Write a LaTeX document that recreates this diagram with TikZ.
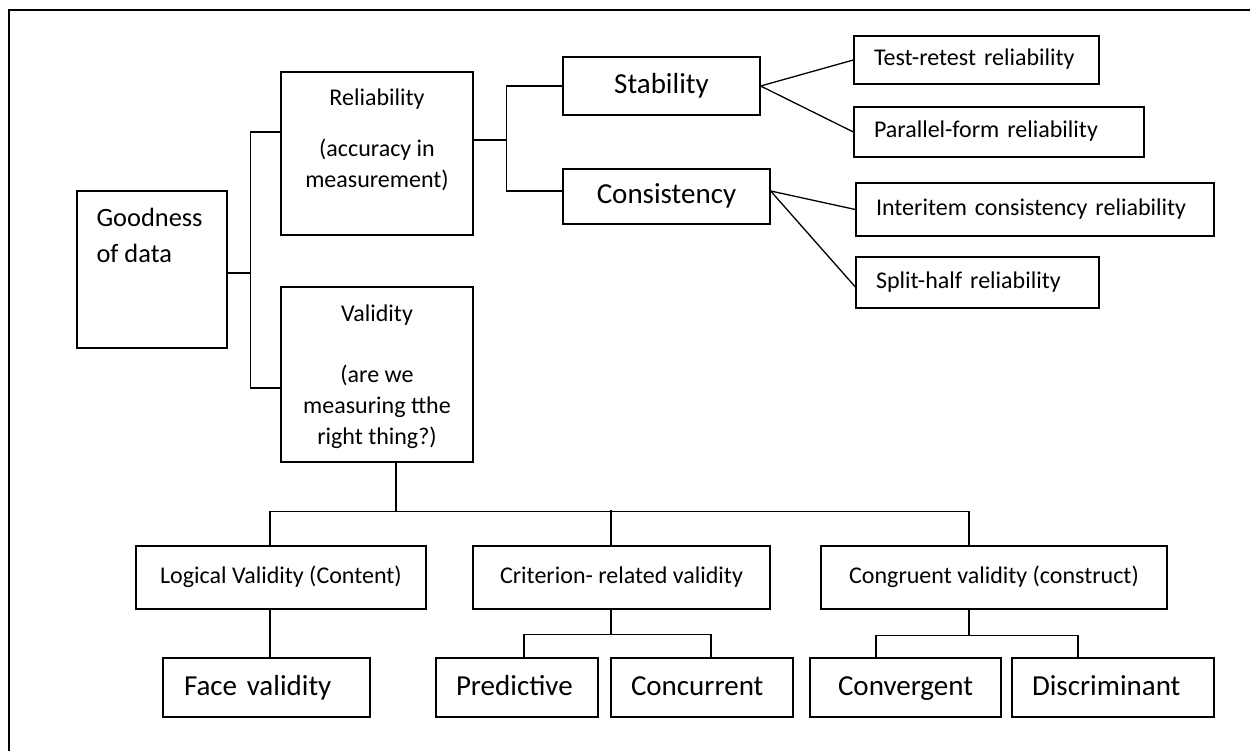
\documentclass[tikz,border=0pt]{standalone}
\usepackage{fontspec}
\setmainfont{Carlito}
\usepackage{tikz}
\usetikzlibrary{calc}

\tikzset{
  box/.style={draw, line width=1.3pt, inner sep=0pt},
  sbox/.style={box, font=\fontsize{24}{30}\selectfont, text height=17pt, text depth=5pt},
  lbox/.style={box, font=\fontsize{29}{35}\selectfont, text height=21pt, text depth=6pt},
  lefttext/.style={align=left, inner xsep=20pt, text width=#1},
  toptext/.style={inner sep=0pt, font=\fontsize{24}{31}\selectfont, align=center},
  link/.style={line width=1.3pt},
  frame/.style={line width=2pt},
}

\begin{document}
\begin{tikzpicture}[x=1pt,y=-1pt]
		%%%%% START %%%%%
		\useasboundingbox (0,0) rectangle (1250,751);
		\draw[frame] (1250,10) -- (9,10) -- (9,751);
		
		% root and the two main branches
		\node[box, minimum width=150pt, minimum height=157pt,
		  label={[inner sep=0pt, font=\fontsize{26.4}{36}\selectfont, align=left, anchor=north west, xshift=20pt, yshift=-18pt]north west:Goodness\\of data}] (good) at (152,269.5) {};
		\node[box, minimum width=192pt, minimum height=163pt,
		  label={[toptext, anchor=north, yshift=-17pt]north:Reliability\\[20pt](accuracy in\\measurement)}] (rel) at (377,153.5) {};
		\node[box, minimum width=192pt, minimum height=175pt,
		  label={[toptext, anchor=north, yshift=-18pt]north:Validity\\[30pt](are we\\measuring tthe\\right thing?)}] (val) at (377,374.5) {};
		
		% reliability
		\node[lbox, minimum width=197pt, minimum height=58pt] (stab) at (661.5,86) {Stability};
		\node[lbox, minimum width=207pt, minimum height=55pt] (cons) at (666.5,196.5) {Consistency};
		\node[sbox, lefttext=205pt, minimum height=48pt] (test) at (976.5,60) {Test-retest reliability};
		\node[sbox, lefttext=250pt, minimum height=50pt] (para) at (999,132) {Parallel-form reliability};
		\node[sbox, lefttext=318pt, minimum height=53pt] (inter) at (1035,209.5) {Interitem consistency reliability};
		\node[sbox, lefttext=203pt, minimum height=51pt] (split) at (977.5,282.5) {Split-half reliability};
		
		% validity
		\node[sbox, minimum width=290pt, minimum height=63pt] (logic) at (281,577.5) {Logical Validity (Content)};
		\node[sbox, minimum width=297pt, minimum height=63pt] (crit) at (621.5,577.5) {Criterion- related validity};
		\node[sbox, minimum width=346pt, minimum height=63pt] (congr) at (994,577.5) {Congruent validity (construct)};
		\node[lbox, lefttext=165pt, inner xsep=21pt, minimum height=59pt] (face) at (266.5,687.5) {Face validity};
		\node[lbox, lefttext=122pt, minimum height=59pt] (pred) at (517,687.5) {Predictive};
		\node[lbox, lefttext=142pt, minimum height=59pt] (conc) at (702,687.5) {Concurrent};
		\node[lbox, minimum width=191pt, minimum height=59pt] (conv) at (905.5,687.5) {Convergent};
		\node[lbox, lefttext=162pt, minimum height=59pt] (disc) at (1113,687.5) {Discriminant};
		
		% connectors
		\draw[link] ([yshift=-3.5pt]good.east) -- ++(23,0) coordinate (gfork);
		\draw[link] ([yshift=21.5pt]rel.west) -| (gfork) |- ([yshift=-13.5pt]val.west);
		
		\draw[link] ([yshift=13.5pt]rel.east) -- ++(33,0) coordinate (rfork);
		\draw[link] (stab.west) -| (rfork) |- ([yshift=5.5pt]cons.west);
		\draw[link] (stab.east) -- (test.west);
		\draw[link] (stab.east) -- (para.west);
		\draw[link] ([yshift=5.5pt]cons.east) -- (inter.west);
		\draw[link] ([yshift=5.5pt]cons.east) -- ([yshift=-4.5pt]split.west);
		
		\draw[link] ([xshift=19pt]val.south) -- ++(0,49) coordinate (vfork);
		\draw[link] ([xshift=-11pt]logic.north) |- (vfork) -| ([xshift=-25pt]congr.north);
		\draw[link] ([xshift=-10.5pt]crit.north) -- ++(0,-35);
		
		\draw[link] ([xshift=-11pt]logic.south) -- ([xshift=3.5pt]face.north);
		\draw[link] ([xshift=-10.5pt]crit.south) -- ++(0,25) coordinate (cfork);
		\draw[link] ([xshift=7pt]pred.north) |- (cfork) -| ([xshift=9pt]conc.north);
		\draw[link] ([xshift=-25pt]congr.south) -- ++(0,26) coordinate (kfork);
		\draw[link] ([xshift=-29.5pt]conv.north) |- (kfork) -| ([xshift=-35pt]disc.north);
		%%%%% END %%%%%
\end{tikzpicture}
\end{document}
